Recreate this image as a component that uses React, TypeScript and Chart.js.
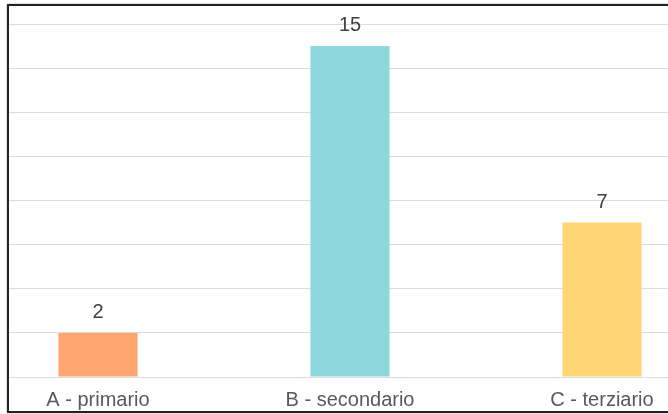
import React, { useEffect, useRef } from "react";
import { Chart, registerables } from "chart.js";

Chart.register(...registerables);

const categories = ["A - primario", "B - secondario", "C - terziario"];
const values = [2, 15, 7];
const barColors = ["#FFA56E", "#8DD8DD", "#FFD673"];

const valueLabels = {
  id: "valueLabels",
  afterDatasetsDraw(chart: any) {
    const ctx = chart.ctx;
    const meta = chart.getDatasetMeta(0);
    ctx.save();
    ctx.font = "20px 'Liberation Sans', Arial, sans-serif";
    ctx.fillStyle = "#404040";
    ctx.textAlign = "center";
    ctx.textBaseline = "middle";
    meta.data.forEach((bar: any, i: number) => {
      ctx.fillText(String(values[i]), bar.x, bar.y - 20.5);
    });
    ctx.restore();
  },
};

export default function App() {
  const ref = useRef<HTMLCanvasElement | null>(null);
  useEffect(() => {
    if (!ref.current) return;
    const chart = new Chart(ref.current, {
      type: "bar",
      data: {
        labels: categories,
        datasets: [
          {
            data: values,
            backgroundColor: barColors,
            borderWidth: 0,
            categoryPercentage: 1,
            barPercentage: 0.314,
          },
        ],
      },
      options: {
        animation: false,
        responsive: false,
        maintainAspectRatio: false,
        layout: { padding: { top: 18, bottom: 4, left: 0, right: 0 } },
        plugins: { legend: { display: false }, tooltip: { enabled: false } },
        scales: {
          x: {
            grid: { display: false, drawTicks: false },
            border: { display: false },
            ticks: {
              color: "#595959",
              padding: 11,
              font: { family: "'Liberation Sans', Arial, sans-serif", size: 20 },
            },
          },
          y: {
            min: 0,
            max: 16,
            display: true,
            grid: { color: "#dcdcdc", lineWidth: 1, drawTicks: false },
            border: { display: false },
            ticks: { display: false, stepSize: 2 },
          },
        },
      },
      plugins: [valueLabels],
    });
    return () => chart.destroy();
  }, []);

  return (
    <div
      style={{
        position: "absolute",
        left: 7,
        top: 4,
        width: 700,
        height: 405,
        borderTop: "2px solid #222",
        borderLeft: "2px solid #222",
        borderBottom: "2px solid #222",
        boxShadow: "0 0 2px rgba(0,0,0,0.35)",
        overflow: "hidden",
        background: "#fff",
      }}
    >
      <canvas
        ref={ref}
        width={756}
        height={421}
        style={{ position: "absolute", left: -37.5, top: 0, width: 756, height: 421 }}
      />
    </div>
  );
}
